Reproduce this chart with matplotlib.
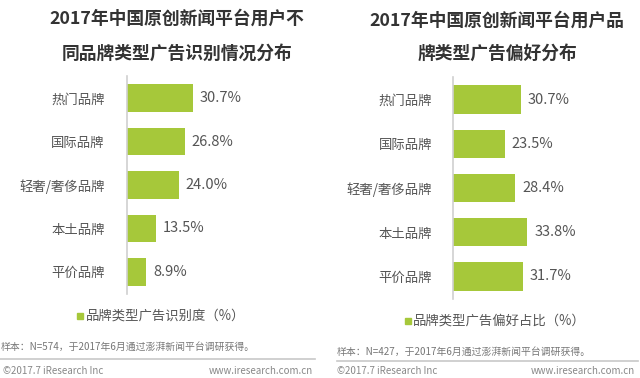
import matplotlib.pyplot as plt
from matplotlib.patches import Rectangle
from matplotlib.lines import Line2D

plt.rcParams['font.family'] = ['Noto Sans CJK SC', 'DejaVu Sans']

# data
brands = ["热门品牌", "国际品牌", "轻奢/奢侈品牌", "本土品牌", "平价品牌"]
recognition = [30.7, 26.8, 24.0, 13.5, 8.9]
preference = [30.7, 23.5, 28.4, 33.8, 31.7]

titles_left = ["2017年中国原创新闻平台用户不", "同品牌类型广告识别情况分布"]
titles_right = ["2017年中国原创新闻平台用户品", "牌类型广告偏好分布"]
legend_left = "品牌类型广告识别度（%）"
legend_right = "品牌类型广告偏好占比（%）"
note_left = "样本：N=574，于2017年6月通过澎湃新闻平台调研获得。"
note_right = "样本：N=427，于2017年6月通过澎湃新闻平台调研获得。"

W, H = 640, 378
green = "#a6c83a"
text_gray = "#555555"

fig = plt.figure(figsize=(6.4, 3.78), dpi=100)


def fx(x):
    return x / W


def fy(y):
    return 1 - y / H


def panel(rect, values, pad):
    ax = fig.add_axes(rect)
    bars = ax.barh(range(len(brands)), values, height=0.64, color=green)
    ax.set_xlim(0, 40)
    ax.set_ylim(4.51, -0.51)
    ax.set_yticks(range(len(brands)))
    ax.set_yticklabels(brands, fontsize=9.6, color=text_gray)
    ax.tick_params(axis="y", length=0, pad=pad)
    ax.set_xticks([])
    for s in ["top", "right", "bottom"]:
        ax.spines[s].set_visible(False)
    ax.spines["left"].set_color("#d0d0d0")
    ax.spines["left"].set_linewidth(1.2)
    ax.bar_label(bars, fmt="%.1f%%", padding=5, fontsize=10.5, color=text_gray)
    return ax


panel([fx(127), fy(294), fx(86), 218 / H], recognition, 16)
panel([fx(453), fy(299), fx(88), 222 / H], preference, 15)

# titles
for t, y in zip(titles_left, [19, 54]):
    fig.text(fx(177), fy(y), t, ha="center", va="center", fontsize=12.8,
             fontweight="bold", color="#333333")
for t, y in zip(titles_right, [21, 54]):
    fig.text(fx(497), fy(y), t, ha="center", va="center", fontsize=12.8,
             fontweight="bold", color="#333333")

# legends
fig.add_artist(Rectangle((fx(77), fy(319)), 6 / W, 6 / H, color=green,
                         transform=fig.transFigure))
fig.text(fx(86), fy(316), legend_left, ha="left", va="center", fontsize=9.6,
         color=text_gray)
fig.add_artist(Rectangle((fx(405), fy(324)), 6 / W, 6 / H, color=green,
                         transform=fig.transFigure))
fig.text(fx(413), fy(321), legend_right, ha="left", va="center", fontsize=9.6,
         color=text_gray)

# notes and footers
fig.text(fx(1), fy(347), note_left, ha="left", va="center", fontsize=7.1,
         color="#777777")
fig.text(fx(337), fy(352), note_right, ha="left", va="center", fontsize=7.1,
         color="#777777")
fig.add_artist(Line2D([0, fx(315)], [fy(359), fy(359)], color="#c8c8c8",
                      lw=1.2, transform=fig.transFigure))
fig.add_artist(Line2D([fx(337), fx(638)], [fy(361), fy(361)], color="#c8c8c8",
                      lw=1.2, transform=fig.transFigure))
fig.text(fx(3), fy(371), "©2017.7 iResearch Inc", ha="left", va="center",
         fontsize=7, color="#888888")
fig.text(fx(313), fy(371), "www.iresearch.com.cn", ha="right", va="center",
         fontsize=7, color="#888888")
fig.text(fx(337), fy(371), "©2017.7 iResearch Inc", ha="left", va="center",
         fontsize=7, color="#888888")
fig.text(fx(635), fy(371), "www.iresearch.com.cn", ha="right", va="center",
         fontsize=7, color="#888888")

fig.savefig("out.png", dpi=100)
